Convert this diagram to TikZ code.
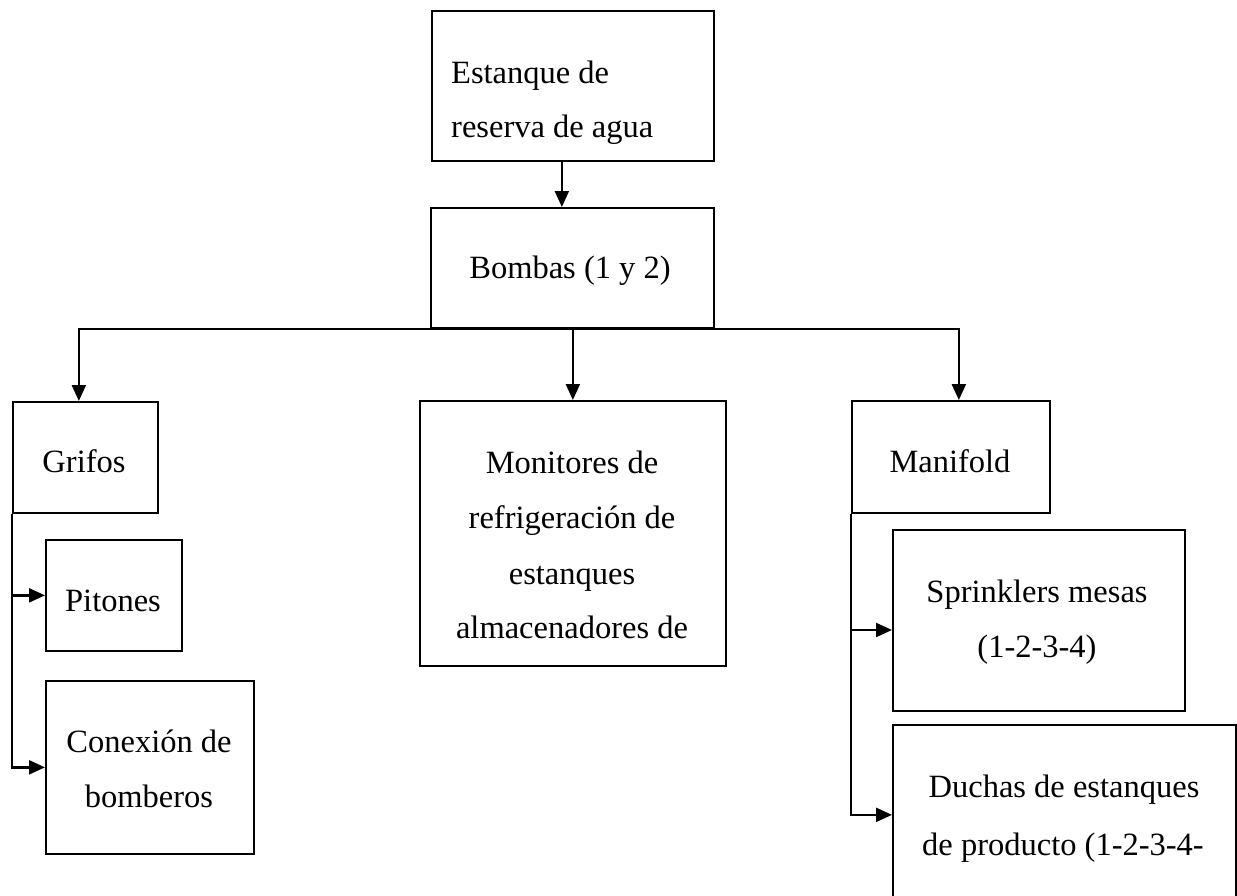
\documentclass[tikz,border=0pt]{standalone}
\usepackage{fontspec}
\setmainfont{Liberation Serif}
\usetikzlibrary{arrows.meta}
\tikzset{
  box/.style={draw=black, line width=1.7pt, inner sep=0pt, anchor=north west, fill=none},
  lbl/.style={inner sep=0pt, anchor=base, font=\fontsize{32.5}{55}\selectfont, text=black},
  lblw/.style={lbl, anchor=base west},
  conn/.style={draw=black, line width=2.3pt},
  arr/.style={conn, -{Triangle[length=16pt,width=14pt]}},
}
\begin{document}
\begin{tikzpicture}[x=1pt,y=-1pt]
\useasboundingbox (0,0) rectangle (1237,895);
\clip (0,0) rectangle (1237,895);
\fill[white] (0,0) rectangle (1237,895);
% boxes
\node[box, minimum width=282pt, minimum height=150pt] (est) at (431,10) {};
\node[box, minimum width=283pt, minimum height=120pt] (bom) at (430,207) {};
\node[box, minimum width=145pt, minimum height=111pt] (gri) at (12,401) {};
\node[box, minimum width=136pt, minimum height=111pt] (pit) at (45,539) {};
\node[box, minimum width=208pt, minimum height=173pt] (con) at (45,680) {};
\node[box, minimum width=306pt, minimum height=265pt] (mon) at (419,400) {};
\node[box, minimum width=198pt, minimum height=112pt] (man) at (851,400) {};
\node[box, minimum width=292pt, minimum height=181pt] (spr) at (892,529) {};
\node[box, minimum width=343pt, minimum height=180pt] (duc) at (892,724) {};
% texts
\node[lblw] (est1) at (451,83) {Estanque de};
\node[lblw] (est2) at (451,137) {reserva de agua};
\node[lbl] (bom1) at (570,278) {Bombas (1 y 2)};
\node[lbl] (gri1) at (84,472) {Grifos};
\node[lbl] (pit1) at (113,611) {Pitones};
\node[lbl] (con1) at (149,752) {Conexión de};
\node[lbl] (con2) at (149,807) {bomberos};
\node[lbl] (mon1) at (572,473) {Monitores de};
\node[lbl] (mon2) at (572,528) {refrigeración de};
\node[lbl] (mon3) at (572,584) {estanques};
\node[lbl] (mon4) at (572,638) {almacenadores de};
\node[lbl] (man1) at (950,472) {Manifold};
\node[lbl] (spr1) at (1037,602) {Sprinklers mesas};
\node[lbl] (spr2) at (1037,657) {(1-2-3-4)};
\node[lbl] (duc1) at (1064,797) {Duchas de estanques};
\node[lbl] (duc2) at (1063,855) {de producto (1-2-3-4-};
% connectors
\draw[arr] ([xshift=-11pt]est.south) -- ([xshift=-11pt]est.south |- bom.north);
\draw[arr] (bom.south) -| ([xshift=-6.5pt]gri.north);
\draw[arr] (bom.south) -| ([xshift=8pt]man.north);
\draw[arr] (bom.south -| mon.north) -- (mon.north);
\draw[arr] (gri.south west) |- (pit.west);
\draw[arr] (gri.south west) |- (con.west);
\draw[arr] (man.south west) |- ([yshift=-101pt]spr.north west);
\draw[arr] (man.south west) |- (duc.west);
\end{tikzpicture}
\end{document}
